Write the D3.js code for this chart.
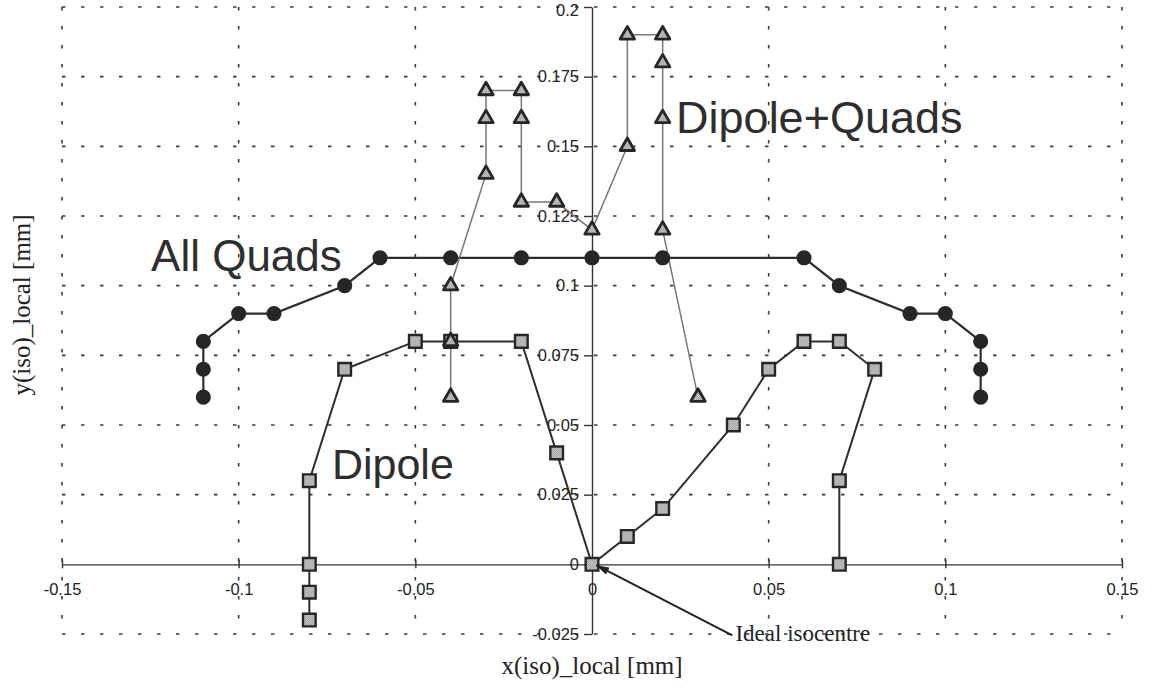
<!DOCTYPE html>
<html>
<head>
<meta charset="utf-8">
<script src="https://cdn.jsdelivr.net/npm/d3@7"></script>
<style>
  body { margin: 0; background: #fff; }
  svg { display: block; }
</style>
</head>
<body>
<div id="chart"></div>
<script>
// Tick positions & labels
const xTicks = [-0.15, -0.1, -0.05, 0, 0.05, 0.1, 0.15];
const xTickLabels = ["-0.15", "-0.1", "-0.05", "0", "0.05", "0.1", "0.15"];
const yTicks = [-0.025, 0, 0.025, 0.05, 0.075, 0.1, 0.125, 0.15, 0.175, 0.2];
const yTickLabels = ["-0.025", "0", "0.025", "0.05", "0.075", "0.1", "0.125", "0.15", "0.175", "0.2"];

// Series: All Quads (filled circles)
const allQuadsX = [-0.11, -0.11, -0.11, -0.1, -0.09, -0.07, -0.06, -0.04, -0.02, 0, 0.02, 0.06, 0.07, 0.09, 0.1, 0.11, 0.11, 0.11];
const allQuadsY = [0.06, 0.07, 0.08, 0.09, 0.09, 0.1, 0.11, 0.11, 0.11, 0.11, 0.11, 0.11, 0.1, 0.09, 0.09, 0.08, 0.07, 0.06];

// Series: Dipole (squares)
const dipoleX = [-0.08, -0.08, -0.08, -0.08, -0.07, -0.05, -0.04, -0.02, -0.01, 0, 0.01, 0.02, 0.04, 0.05, 0.06, 0.07, 0.08, 0.07, 0.07];
const dipoleY = [-0.02, -0.01, 0, 0.03, 0.07, 0.08, 0.08, 0.08, 0.04, 0, 0.01, 0.02, 0.05, 0.07, 0.08, 0.08, 0.07, 0.03, 0];

// Series: Dipole+Quads (triangles)
const dqX = [-0.04, -0.04, -0.04, -0.03, -0.03, -0.03, -0.02, -0.02, -0.02, -0.01, 0, 0.01, 0.01, 0.02, 0.02, 0.02, 0.02, 0.03];
const dqY = [0.06, 0.08, 0.1, 0.14, 0.16, 0.17, 0.17, 0.16, 0.13, 0.13, 0.12, 0.15, 0.19, 0.19, 0.18, 0.16, 0.12, 0.06];

// Text annotations (data units)
const labelText = ["All Quads", "Dipole+Quads", "Dipole"];
const labelX = [-0.1248, 0.0238, -0.0736];
const labelY = [0.1052, 0.1548, 0.0306];
const labelSize = [44, 45, 43];

const W = 1156, H = 691;
const SANS = "'Liberation Sans', Arial, Helvetica, sans-serif";
const SERIF = "'Liberation Serif', 'Times New Roman', serif";
const x = d3.scaleLinear().domain([-0.15, 0.15]).range([62, 1122]);
const y = d3.scaleLinear().domain([-0.025, 0.2]).range([634, 7]);

const svg = d3.select("#chart").append("svg")
  .attr("width", W).attr("height", H)
  .attr("viewBox", [0, 0, W, H]);

// motifs gris tramés pour les marqueurs
const defs = svg.append("defs");
const pat = defs.append("pattern")
  .attr("id", "halftone").attr("patternUnits", "userSpaceOnUse")
  .attr("width", 2).attr("height", 2);
pat.append("rect").attr("width", 2).attr("height", 2).attr("fill", "#dcdcdc");
pat.append("rect").attr("width", 1).attr("height", 1).attr("fill", "#858585");
pat.append("rect").attr("x", 1).attr("y", 1).attr("width", 1).attr("height", 1).attr("fill", "#959595");

defs.append("marker")
  .attr("id", "arrow").attr("viewBox", "0 0 13 8")
  .attr("refX", 13).attr("refY", 4)
  .attr("markerWidth", 13).attr("markerHeight", 8)
  .attr("markerUnits", "userSpaceOnUse")
  .attr("orient", "auto")
  .append("path").attr("d", "M0,0 L13,4 L0,8 Z").attr("fill", "#222");

// Grille pointillée
const grid = svg.append("g").attr("stroke", "#3a3a3a").attr("stroke-width", 1.6).attr("stroke-dasharray", "3.5,15.5");
grid.selectAll("line.v")
  .data(xTicks.filter(d => d !== 0))
  .join("line").attr("class", "v")
    .attr("x1", d => x(d)).attr("x2", d => x(d))
    .attr("y1", y(0.2)).attr("y2", y(-0.025));
grid.selectAll("line.h")
  .data(yTicks.filter(d => d !== 0))
  .join("line").attr("class", "h")
    .attr("x1", x(-0.15)).attr("x2", x(0.15))
    .attr("y1", d => y(d)).attr("y2", d => y(d));

// Axes
const xAxis = svg.append("g")
  .attr("transform", `translate(0,${y(0)})`)
  .call(d3.axisBottom(x).tickValues(xTicks).tickFormat((d, i) => xTickLabels[i]).tickSizeOuter(0).tickSizeInner(4))
  .attr("font-family", SANS).attr("font-size", 16.5);
xAxis.select(".domain").attr("stroke", "#333").attr("stroke-width", 1.4);
xAxis.selectAll(".tick line").attr("y1", -4).attr("y2", 4).attr("stroke", "#333").attr("stroke-width", 1.4);
xAxis.selectAll(".tick text").attr("y", 19).attr("dy", "0.71em").attr("fill", "#222");

const yAxis = svg.append("g")
  .attr("transform", `translate(${x(0)},0)`)
  .call(d3.axisLeft(y).tickValues(yTicks).tickFormat((d, i) => yTickLabels[i]).tickSizeOuter(0).tickSizeInner(8).tickPadding(5))
  .attr("font-family", SANS).attr("font-size", 16.5);
yAxis.select(".domain").attr("stroke", "#333").attr("stroke-width", 1.4);
yAxis.selectAll(".tick line").attr("stroke", "#333").attr("stroke-width", 1.4);
yAxis.selectAll(".tick text").attr("fill", "#222")
  .attr("dy", d => d === 0.2 ? "0.5em" : "0.32em"); // le 0.2 touche le bord haut

// Courbes
const line = d3.line().x(d => x(d[0])).y(d => y(d[1]));
const allQuads = allQuadsX.map((v, i) => [v, allQuadsY[i]]);
const dipole = dipoleX.map((v, i) => [v, dipoleY[i]]);
const dq = dqX.map((v, i) => [v, dqY[i]]);

svg.append("path").datum(dipole).attr("d", line)
  .attr("fill", "none").attr("stroke", "#2e2e2e").attr("stroke-width", 2);
svg.append("path").datum(allQuads).attr("d", line)
  .attr("fill", "none").attr("stroke", "#2e2e2e").attr("stroke-width", 2.2);
svg.append("path").datum(dq).attr("d", line)
  .attr("fill", "none").attr("stroke", "#777").attr("stroke-width", 1.5);

// Marqueurs
svg.append("g").selectAll("path")
  .data(dipole).join("path")
    .attr("transform", d => `translate(${x(d[0])},${y(d[1])})`)
    .attr("d", d3.symbol(d3.symbolSquare, 160))
    .attr("fill", "url(#halftone)").attr("stroke", "#262626").attr("stroke-width", 2.4);

svg.append("g").selectAll("path")
  .data(allQuads).join("path")
    .attr("transform", d => `translate(${x(d[0])},${y(d[1])})`)
    .attr("d", d3.symbol(d3.symbolCircle, 180))
    .attr("fill", "#262626");

svg.append("g").selectAll("path")
  .data(dq).join("path")
    .attr("transform", d => `translate(${x(d[0])},${y(d[1])})`)
    .attr("d", d3.symbol(d3.symbolTriangle, 90))
    .attr("fill", "url(#halftone)").attr("stroke", "#262626").attr("stroke-width", 2.8)
    .attr("stroke-linejoin", "round");

// Étiquettes de séries
svg.append("g").selectAll("text")
  .data(labelText).join("text")
    .attr("x", (d, i) => x(labelX[i]))
    .attr("y", (d, i) => y(labelY[i]))
    .attr("font-family", SANS)
    .attr("font-size", (d, i) => labelSize[i])
    .attr("fill", "#2e2e2e")
    .text(d => d);

// Annotation "Ideal isocentre"
svg.append("line")
  .attr("x1", x(0.0397)).attr("y1", y(-0.0255))
  .attr("x2", x(0.0012)).attr("y2", y(-0.0003))
  .attr("stroke", "#222").attr("stroke-width", 2)
  .attr("marker-end", "url(#arrow)");
svg.append("text")
  .attr("x", x(0.0406)).attr("y", y(-0.0275))
  .attr("font-family", SERIF)
  .attr("font-size", 23).attr("fill", "#222")
  .text("Ideal isocentre");

// Titres des axes
svg.append("text")
  .attr("x", x(0)).attr("y", 674)
  .attr("text-anchor", "middle")
  .attr("font-family", SERIF)
  .attr("font-size", 25).attr("fill", "#222")
  .text("x(iso)_local [mm]");
svg.append("text")
  .attr("transform", `translate(30, 305) rotate(-90)`)
  .attr("text-anchor", "middle")
  .attr("font-family", SERIF)
  .attr("font-size", 25).attr("fill", "#222")
  .text("y(iso)_local [mm]");
</script>
</body>
</html>
